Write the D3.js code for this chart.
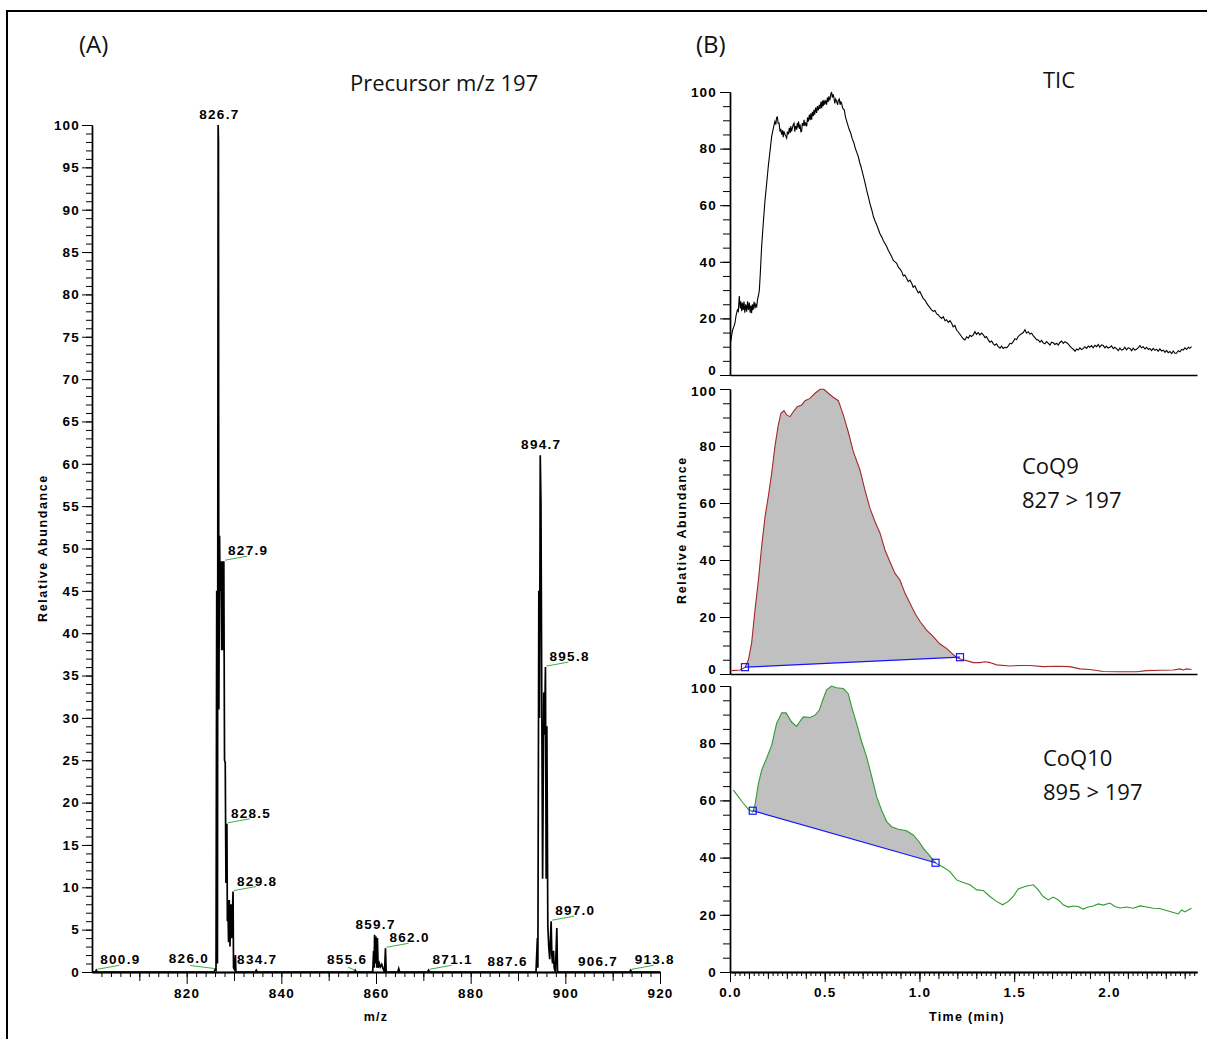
<!DOCTYPE html>
<html>
<head>
<meta charset="utf-8">
<script src="https://cdn.jsdelivr.net/npm/d3@7"></script>
<style>
  body { margin: 0; background: #fff; }
  svg { display: block; }
  .tk text { font-family: "Liberation Sans", Arial, sans-serif; font-weight: bold; font-size: 13.5px; letter-spacing: 1.2px; fill: #000; }
  .lab { font-family: "Liberation Sans", Arial, sans-serif; font-weight: bold; font-size: 13.5px; letter-spacing: 1.3px; fill: #000; }
  .note { font-family: "Open Sans", sans-serif; font-size: 22px; fill: #111; }
</style>
</head>
<body>
<div id="chart"></div>
<script>
// Data
// (A) product ion spectrum, precursor m/z 197 : [m/z, relative abundance]
const spectrum = [
  [800.0, 0], [800.7, 0], [800.9, 0.2], [801.1, 0],
  [825.8, 0], [826.0, 0.3], [826.2, 0.2], [826.35, 45], [826.5, 1], [826.65, 100], [826.72, 98],
  [826.8, 31], [826.95, 51.5], [827.05, 45], [827.25, 48.5], [827.4, 38], [827.55, 48.5],
  [827.7, 38], [827.85, 48.5], [828.0, 25], [828.15, 24.7], [828.3, 10.5], [828.5, 17.5],
  [828.6, 6], [828.7, 8.5], [828.85, 3.5], [829.0, 8.5], [829.15, 3], [829.35, 8], [829.5, 4],
  [829.8, 9.5], [829.9, 0.5], [830.1, 0.3], [830.3, 2], [830.4, 0],
  [834.5, 0], [834.7, 0.2], [834.9, 0],
  [855.4, 0], [855.6, 0.2], [855.8, 0],
  [859.3, 0], [859.5, 2.5], [859.6, 0.5], [859.7, 4.4], [859.85, 1], [860.0, 4.2], [860.15, 0.5],
  [860.3, 4], [860.45, 0.5], [860.7, 1], [860.9, 0.6], [861.2, 0.9], [861.5, 0.4], [861.8, 0],
  [862.0, 2.8], [862.15, 0],
  [864.6, 0], [864.8, 0.4], [865.0, 0],
  [870.9, 0], [871.1, 0.2], [871.3, 0],
  [893.8, 0], [894.1, 4], [894.2, 0.5], [894.4, 45], [894.55, 30], [894.7, 61], [894.85, 55.5],
  [895.05, 28.5], [895.2, 11], [895.45, 33], [895.6, 28], [895.8, 36], [895.95, 11], [896.1, 29],
  [896.3, 5.5], [896.5, 3], [896.7, 1.5], [897.0, 6], [897.15, 2], [897.3, 1], [897.5, 2.5],
  [897.65, 0.5], [897.9, 0], [898.2, 5.2], [898.35, 0],
  [913.6, 0], [913.8, 0.2], [914.0, 0], [920, 0],
];

// peak labels
const labelMz = [800.9, 826.0, 826.7, 827.9, 828.5, 829.8, 834.7, 855.6, 859.7, 862.0, 871.1, 887.6, 894.7, 895.8, 897.0, 906.7, 913.8];
const labelAbund = [0.2, 0.3, 100, 48.5, 17.5, 9.5, 0.2, 0.2, 4.4, 2.8, 0.2, 0, 61, 36, 6, 0, 0.2];

// (B) chromatograms : [time (min), relative abundance]
const tic = [
  [0.004, 11.8], [0.010, 14.5], [0.014, 15.9], [0.02, 17], [0.026, 18.3], [0.032, 21], [0.039, 23], [0.044, 22.5],
  [0.049, 27.9], [0.054, 23.5], [0.058, 26], [0.062, 22.5], [0.066, 25.5], [0.070, 23], [0.074, 26], [0.078, 22],
  [0.083, 25], [0.088, 22.4], [0.093, 26], [0.097, 23], [0.102, 25.6], [0.106, 22], [0.110, 24.5], [0.114, 21.8],
  [0.118, 25], [0.122, 23], [0.127, 25.9], [0.132, 23.5], [0.136, 25], [0.141, 24.2], [0.146, 27], [0.150, 28],
  [0.155, 30], [0.160, 36], [0.167, 45.4], [0.176, 54], [0.185, 61.9], [0.194, 68], [0.202, 73.7], [0.211, 79],
  [0.220, 84.3], [0.228, 87], [0.237, 89.6], [0.242, 88.5], [0.246, 91], [0.250, 91.2], [0.254, 89], [0.259, 89],
  [0.264, 86], [0.268, 87], [0.273, 84.9], [0.278, 86.5], [0.281, 84], [0.285, 86.1], [0.290, 85], [0.294, 84.5],
  [0.299, 83.7], [0.303, 86], [0.308, 85], [0.313, 87.3], [0.318, 85.5], [0.321, 88], [0.325, 86.1], [0.330, 87.5],
  [0.334, 88.5], [0.338, 89], [0.342, 86], [0.346, 88], [0.352, 86.7], [0.355, 89], [0.358, 87.5], [0.362, 89.6],
  [0.366, 87], [0.370, 88.5], [0.374, 86], [0.378, 86.1], [0.382, 89], [0.386, 88], [0.391, 90.2], [0.395, 88],
  [0.400, 89], [0.405, 87.9], [0.409, 91], [0.413, 89.5], [0.419, 92], [0.423, 90], [0.427, 92.5], [0.431, 90.2],
  [0.435, 93], [0.440, 91.5], [0.443, 93.7], [0.447, 92], [0.452, 94.5], [0.457, 92.6], [0.461, 95], [0.466, 93.5],
  [0.471, 95.5], [0.475, 94], [0.480, 96.5], [0.484, 94.3], [0.488, 97], [0.492, 95], [0.496, 97.2], [0.500, 95.5],
  [0.505, 97], [0.510, 95.5], [0.514, 98], [0.518, 96.5], [0.522, 98.5], [0.527, 97], [0.531, 99], [0.536, 100],
  [0.540, 98], [0.545, 99.2], [0.549, 97.9], [0.553, 96], [0.558, 97.5], [0.563, 96.7], [0.568, 95.5], [0.572, 97],
  [0.577, 97.5], [0.581, 95.5], [0.585, 96.5], [0.589, 96.1], [0.594, 94.5], [0.598, 94], [0.603, 93.7], [0.610, 91],
  [0.619, 89], [0.628, 87], [0.637, 85.5], [0.645, 83.5], [0.654, 82], [0.662, 80], [0.670, 78.5], [0.677, 77.2],
  [0.685, 75], [0.692, 73.5], [0.700, 71.3], [0.707, 69.5], [0.714, 67.5], [0.721, 65.4], [0.730, 63], [0.739, 60.5],
  [0.748, 58.4], [0.757, 56], [0.765, 54.5], [0.774, 53.1], [0.783, 51.5], [0.791, 50], [0.800, 48.9], [0.809, 47.5],
  [0.818, 46.5], [0.827, 45.4], [0.836, 44], [0.844, 43], [0.853, 41.9], [0.862, 40.5], [0.871, 40], [0.880, 39.5],
  [0.889, 38], [0.897, 37.5], [0.906, 36.6], [0.915, 35], [0.923, 35.3], [0.932, 34.2], [0.941, 33], [0.950, 33.5],
  [0.959, 32.4], [0.967, 31], [0.976, 31.5], [0.985, 30.1], [0.994, 29], [1.002, 29.5], [1.011, 28.3], [1.020, 27],
  [1.029, 26.5], [1.038, 25.4], [1.047, 24.5], [1.055, 23.8], [1.064, 23], [1.073, 22.5], [1.082, 22.8], [1.091, 21.6],
  [1.100, 21.2], [1.108, 20.5], [1.117, 20], [1.126, 20.6], [1.135, 19.2], [1.143, 19.5], [1.152, 18.6], [1.161, 19.2],
  [1.170, 18.3], [1.178, 17], [1.187, 17.5], [1.196, 15.9], [1.205, 15.2], [1.213, 14.5], [1.222, 13.6], [1.231, 12.8],
  [1.240, 12.4], [1.249, 13.5], [1.258, 13], [1.266, 14], [1.275, 13.6], [1.284, 14.2], [1.293, 15.3], [1.301, 14.4],
  [1.310, 15], [1.319, 14.2], [1.328, 14.8], [1.337, 14.2], [1.346, 13.2], [1.354, 13.6], [1.363, 12.4], [1.372, 11.6],
  [1.381, 12], [1.390, 11], [1.398, 10.5], [1.407, 11], [1.416, 10], [1.425, 9.5], [1.433, 10.2], [1.442, 9.4],
  [1.451, 9.8], [1.460, 9.6], [1.469, 10.3], [1.478, 11.2], [1.486, 11], [1.495, 11.8], [1.504, 12.8], [1.513, 12.5],
  [1.521, 13.6], [1.530, 14.2], [1.539, 14.6], [1.548, 15], [1.557, 16], [1.565, 14.8], [1.574, 15.3], [1.583, 14.5],
  [1.592, 14.8], [1.601, 13.8], [1.610, 13.2], [1.618, 12.5], [1.627, 12.4], [1.636, 11.6], [1.645, 12.2], [1.653, 11.4],
  [1.662, 11], [1.671, 11.8], [1.680, 11.2], [1.689, 10.6], [1.697, 11.6], [1.706, 11.4], [1.715, 10.8], [1.724, 11.2],
  [1.733, 10.6], [1.741, 11.5], [1.750, 12], [1.759, 11.2], [1.768, 11.8], [1.777, 11.4], [1.785, 11], [1.794, 10.2],
  [1.803, 9.6], [1.812, 9.1], [1.821, 8.4], [1.829, 9.2], [1.838, 8.8], [1.847, 9.6], [1.856, 9], [1.864, 9.3],
  [1.873, 10], [1.882, 9.4], [1.891, 10.2], [1.899, 9.8], [1.908, 10.4], [1.917, 9.6], [1.926, 10.5], [1.935, 10],
  [1.944, 10.8], [1.952, 9.8], [1.961, 10.6], [1.970, 10.4], [1.979, 9.6], [1.987, 10.2], [1.996, 9.5], [2.005, 9.8],
  [2.014, 10.3], [2.023, 9.3], [2.031, 9.8], [2.040, 9.3], [2.049, 8.6], [2.058, 9.5], [2.067, 8.8], [2.076, 9.1],
  [2.084, 9.8], [2.093, 8.9], [2.102, 9.6], [2.111, 9.4], [2.120, 8.6], [2.128, 9.5], [2.137, 8.8], [2.146, 9.1],
  [2.155, 9.7], [2.164, 10.4], [2.172, 9.6], [2.181, 10], [2.190, 9.2], [2.199, 9.8], [2.208, 9], [2.216, 9.4],
  [2.225, 8.6], [2.234, 9.4], [2.243, 8.7], [2.252, 9.1], [2.260, 8.4], [2.269, 9.2], [2.278, 8.5], [2.287, 8.8],
  [2.296, 8], [2.304, 8.7], [2.313, 7.9], [2.322, 8.3], [2.331, 7.6], [2.340, 8.5], [2.348, 7.7], [2.357, 7.7],
  [2.366, 8.6], [2.375, 8.2], [2.384, 9], [2.392, 8.8], [2.401, 9.6], [2.410, 9], [2.419, 9.8], [2.427, 9.4], [2.436, 10],
];

const coq9 = [
  [0.009, 1.2], [0.053, 1.4], [0.079, 2.3], [0.097, 4.9], [0.114, 10.8], [0.132, 22.5], [0.150, 33], [0.167, 44.7],
  [0.185, 55.2], [0.202, 62.2], [0.220, 70.4], [0.237, 79.8], [0.255, 87.4], [0.269, 91.5], [0.285, 92.4], [0.299, 90.9],
  [0.317, 90.3], [0.334, 92], [0.355, 93.8], [0.378, 94.4], [0.396, 95.9], [0.422, 96.7], [0.449, 98.5], [0.475, 99.9],
  [0.496, 99.9], [0.519, 98.5], [0.545, 97.1], [0.572, 95.9], [0.598, 90.9], [0.624, 85], [0.651, 78], [0.686, 71.6],
  [0.712, 64.6], [0.739, 58.1], [0.765, 53.5], [0.792, 49.4], [0.818, 43.5], [0.844, 39.4], [0.871, 35.3], [0.897, 33],
  [0.924, 28.3], [0.950, 24.8], [0.976, 21.3], [1.003, 18.4], [1.038, 15.4], [1.073, 13.1], [1.108, 10.5], [1.143, 9],
  [1.170, 7.3], [1.196, 5.8], [1.222, 5.1], [1.249, 4.7], [1.284, 4], [1.319, 4], [1.346, 4.3], [1.372, 4],
  [1.407, 3.2], [1.478, 2.8], [1.530, 3], [1.583, 3], [1.653, 2.6], [1.724, 2.7], [1.794, 2.6], [1.847, 1.8],
  [1.900, 1.6], [1.970, 0.9], [2.058, 0.8], [2.146, 0.8], [2.199, 1.2], [2.269, 1.3], [2.340, 1.4], [2.375, 1.8],
  [2.392, 1.4], [2.410, 1.8], [2.436, 1.6],
];

const coq10 = [
  [0.018, 63.6], [0.044, 61.3], [0.070, 59], [0.097, 56.9], [0.120, 56], [0.132, 58.4], [0.150, 65.9], [0.167, 70.6],
  [0.193, 74.7], [0.220, 79.3], [0.246, 86.9], [0.273, 90.6], [0.296, 90.6], [0.325, 87.4], [0.352, 85.9], [0.373, 88],
  [0.387, 89.2], [0.422, 89], [0.449, 89.8], [0.471, 91.5], [0.489, 95], [0.510, 98.7], [0.536, 100], [0.563, 99.4],
  [0.598, 99.1], [0.624, 97.3], [0.642, 92.7], [0.668, 86.9], [0.695, 80.5], [0.721, 75.2], [0.748, 68.3], [0.774, 61.3],
  [0.800, 56.6], [0.827, 52.6], [0.853, 50.8], [0.888, 49.9], [0.932, 49.4], [0.967, 47.9], [0.994, 45.9], [1.020, 43.3],
  [1.055, 40.6], [1.087, 38], [1.126, 36.6], [1.161, 35.1], [1.196, 32.2], [1.231, 31.3], [1.266, 30.5], [1.302, 28.7],
  [1.337, 28.5], [1.372, 26.4], [1.407, 24.7], [1.439, 23.5], [1.469, 24.7], [1.495, 26.4], [1.521, 29], [1.557, 29.9],
  [1.601, 30.5], [1.627, 28.7], [1.653, 26.4], [1.680, 25.2], [1.706, 26.2], [1.733, 25.2], [1.759, 23.5], [1.785, 22.7],
  [1.812, 23.1], [1.838, 22.9], [1.864, 22], [1.891, 22.7], [1.917, 23.1], [1.944, 23.8], [1.970, 23.4], [2.005, 24.1],
  [2.032, 22.9], [2.058, 22.4], [2.093, 22.7], [2.128, 22.3], [2.164, 23.1], [2.199, 22.7], [2.234, 22.3], [2.269, 22.2],
  [2.304, 21.5], [2.340, 20.8], [2.366, 20.3], [2.384, 21.7], [2.401, 21], [2.436, 22.3],
];

// integration baselines (start and end marker)
const coq9Base = [[0.079, 2.4], [1.214, 5.9]];
const coq10Base = [[0.12, 56.4], [1.085, 38.2]];

const W = 1207;
const H = 1039;

const svg = d3.select('#chart').append('svg').attr('width', W).attr('height', H);
svg.append('rect').attr('width', W).attr('height', H).attr('fill', '#fff');
svg.append('rect')
  .attr('x', 7).attr('y', 11).attr('width', 1220).attr('height', 1050)
  .attr('fill', 'none').attr('stroke', '#000').attr('stroke-width', 2);

function styleAxis(g) {
  g.select('.domain').attr('stroke-width', 1.4);
  g.selectAll('.tick line').attr('stroke-width', 1);
}

// ---------- PANEL A ----------
const xA = d3.scaleLinear().domain([800, 920]).range([92, 660]);
const yA = d3.scaleLinear().domain([0, 100]).range([972, 125]);

const gA = svg.append('g');

gA.append('g').attr('transform', 'translate(92,0)')
  .call(d3.axisLeft(yA).tickValues(d3.range(0, 101, 1)).tickSize(6).tickFormat('').tickSizeOuter(0))
  .call(styleAxis);
gA.append('g').attr('class', 'tk').attr('transform', 'translate(92,0)')
  .call(d3.axisLeft(yA).tickValues(d3.range(0, 101, 5)).tickSize(10).tickPadding(2).tickSizeOuter(0))
  .call(styleAxis);

gA.append('g').attr('transform', 'translate(0,972)')
  .call(d3.axisBottom(xA).tickValues(d3.range(802, 920, 2)).tickSize(5).tickFormat('').tickSizeOuter(0))
  .call(styleAxis);
gA.append('g').attr('transform', 'translate(0,972)')
  .call(d3.axisBottom(xA).tickValues(d3.range(810, 920, 20)).tickSize(9).tickFormat('').tickSizeOuter(0))
  .call(styleAxis);
gA.append('g').attr('class', 'tk').attr('transform', 'translate(0,972)')
  .call(d3.axisBottom(xA).tickValues(d3.range(820, 921, 20)).tickSize(12).tickPadding(4).tickSizeOuter(0))
  .call(styleAxis);

// spectrum profile
gA.append('path')
  .datum(spectrum)
  .attr('fill', 'none')
  .attr('stroke', '#000')
  .attr('stroke-width', 1.7)
  .attr('stroke-linejoin', 'miter')
  .attr('d', d3.line().x((d) => xA(d[0])).y((d) => yA(d[1])));

// label placement (layout only)
const labelSide = {
  '826.7': 'top', '894.7': 'top', '826.0': 'left', '855.6': 'midl',
  '834.7': 'mid', '859.7': 'mid', '887.6': 'mid', '906.7': 'mid',
};

labelMz.forEach((mz, i) => {
  const txt = mz.toFixed(1);
  const px = xA(mz);
  const py = yA(labelAbund[i]);
  const side = labelSide[txt] || 'right';
  if (side === 'right') {
    gA.append('line').attr('x1', px + 1).attr('y1', py - 1).attr('x2', px + 23).attr('y2', py - 5)
      .attr('stroke', '#3cb043').attr('stroke-width', 1);
    gA.append('text').attr('class', 'lab').attr('x', px + 4).attr('y', py - 6).text(txt);
  } else if (side === 'left') {
    gA.append('line').attr('x1', px - 1).attr('y1', py - 1).attr('x2', px - 25).attr('y2', py - 4)
      .attr('stroke', '#3cb043').attr('stroke-width', 1);
    gA.append('text').attr('class', 'lab').attr('x', px - 6).attr('y', py - 6).attr('text-anchor', 'end').text(txt);
  } else if (side === 'midl') {
    gA.append('line').attr('x1', px).attr('y1', py).attr('x2', px - 7).attr('y2', py - 3)
      .attr('stroke', '#3cb043').attr('stroke-width', 1);
    gA.append('text').attr('class', 'lab').attr('x', px - 8).attr('y', py - 6).attr('text-anchor', 'middle').text(txt);
  } else {
    gA.append('text').attr('class', 'lab').attr('x', px + 1).attr('y', py - 6).attr('text-anchor', 'middle').text(txt);
  }
});

gA.append('text').attr('class', 'lab').attr('x', 376).attr('y', 1021).attr('text-anchor', 'middle').style('font-size', '12.5px').text('m/z');
gA.append('text').attr('class', 'lab')
  .attr('transform', 'translate(47,548) rotate(-90)')
  .attr('text-anchor', 'middle')
  .style('font-size', '12.5px')
  .style('letter-spacing', '1.6px')
  .text('Relative Abundance');

svg.append('text').attr('class', 'note').attr('x', 79).attr('y', 53).style('font-size', '24px').text('(A)');
svg.append('text').attr('class', 'note').attr('x', 350).attr('y', 91).text('Precursor m/z 197');

// ---------- PANEL B ----------
const xB = d3.scaleLinear().domain([0, 2.465]).range([730, 1197]);

const panels = [
  { data: tic, range: [375, 92], color: '#000', base: null },
  { data: coq9, range: [674, 389], color: '#a3292b', base: coq9Base },
  { data: coq10, range: [972, 686], color: '#2f9a2f', base: coq10Base },
];

panels.forEach((p, idx) => {
  const y = d3.scaleLinear().domain([0, 100]).range(p.range);
  const g = svg.append('g');

  // integrated area
  if (p.base) {
    const [b0, b1] = p.base;
    const baseAt = d3.scaleLinear().domain([b0[0], b1[0]]).range([b0[1], b1[1]]);
    const inside = [b0, ...p.data.filter((d) => d[0] > b0[0] && d[0] < b1[0]), b1];
    g.append('path')
      .datum(inside)
      .attr('fill', '#c0c0c0')
      .attr('d', d3.area().x((d) => xB(d[0])).y0((d) => y(baseAt(d[0]))).y1((d) => y(d[1])));
  }

  g.append('path')
    .datum(p.data)
    .attr('fill', 'none')
    .attr('stroke', p.color)
    .attr('stroke-width', 1.1)
    .attr('d', d3.line().x((d) => xB(d[0])).y((d) => y(d[1])));

  if (p.base) {
    g.append('line')
      .attr('x1', xB(p.base[0][0])).attr('y1', y(p.base[0][1]))
      .attr('x2', xB(p.base[1][0])).attr('y2', y(p.base[1][1]))
      .attr('stroke', '#1414ff').attr('stroke-width', 1.2);
    g.selectAll('rect.mk')
      .data(p.base)
      .join('rect')
      .attr('class', 'mk')
      .attr('x', (d) => xB(d[0]) - 3.5)
      .attr('y', (d) => y(d[1]) - 3.5)
      .attr('width', 7)
      .attr('height', 7)
      .attr('fill', 'none')
      .attr('stroke', '#1414ff')
      .attr('stroke-width', 1.2);
  }

  // y axis
  g.append('g').attr('transform', 'translate(730,0)')
    .call(d3.axisLeft(y).tickValues(d3.range(0, 101, 5)).tickSize(7).tickFormat('').tickSizeOuter(0))
    .call(styleAxis);
  const gy = g.append('g').attr('class', 'tk').attr('transform', 'translate(730,0)')
    .call(d3.axisLeft(y).tickValues(d3.range(0, 101, 20)).tickSize(10).tickPadding(3).tickSizeOuter(0))
    .call(styleAxis);
  // stacked panels: keep the "0" of one panel clear of the "100" of the next
  gy.selectAll('.tick text')
    .attr('dy', (d) => {
      if (d === 0 && idx < panels.length - 1) return '-0.05em';
      if (d === 100 && idx > 0) return '0.5em';
      return '0.32em';
    });

  // x axis
  const gx = g.append('g').attr('transform', `translate(0,${p.range[0]})`);
  if (idx < panels.length - 1) {
    gx.call(d3.axisBottom(xB).tickValues([]).tickSizeOuter(0)).call(styleAxis);
  } else {
    gx.call(d3.axisBottom(xB).tickValues(d3.range(0, 2.46, 0.025)).tickSize(4).tickFormat('').tickSizeOuter(0)).call(styleAxis);
    g.append('g').attr('transform', `translate(0,${p.range[0]})`)
      .call(d3.axisBottom(xB).tickValues(d3.range(0, 2.46, 0.1)).tickSize(7).tickFormat('').tickSizeOuter(0))
      .call(styleAxis);
    g.append('g').attr('class', 'tk').attr('transform', `translate(0,${p.range[0]})`)
      .call(d3.axisBottom(xB).tickValues([0, 0.5, 1, 1.5, 2]).tickSize(10).tickPadding(5).tickFormat(d3.format('.1f')).tickSizeOuter(0))
      .call(styleAxis);
  }
});

svg.append('text').attr('class', 'lab').attr('x', 967).attr('y', 1021).attr('text-anchor', 'middle').style('font-size', '12.5px').text('Time (min)');
svg.append('text').attr('class', 'lab')
  .attr('transform', 'translate(686,530) rotate(-90)')
  .attr('text-anchor', 'middle')
  .style('font-size', '12.5px')
  .style('letter-spacing', '1.6px')
  .text('Relative Abundance');

svg.append('text').attr('class', 'note').attr('x', 696).attr('y', 53).style('font-size', '24px').text('(B)');
svg.append('text').attr('class', 'note').attr('x', 1043).attr('y', 88).text('TIC');
svg.append('text').attr('class', 'note').attr('x', 1022).attr('y', 474).text('CoQ9');
svg.append('text').attr('class', 'note').attr('x', 1022).attr('y', 508).text('827 > 197');
svg.append('text').attr('class', 'note').attr('x', 1043).attr('y', 766).text('CoQ10');
svg.append('text').attr('class', 'note').attr('x', 1043).attr('y', 800).text('895 > 197');
</script>
</body>
</html>
